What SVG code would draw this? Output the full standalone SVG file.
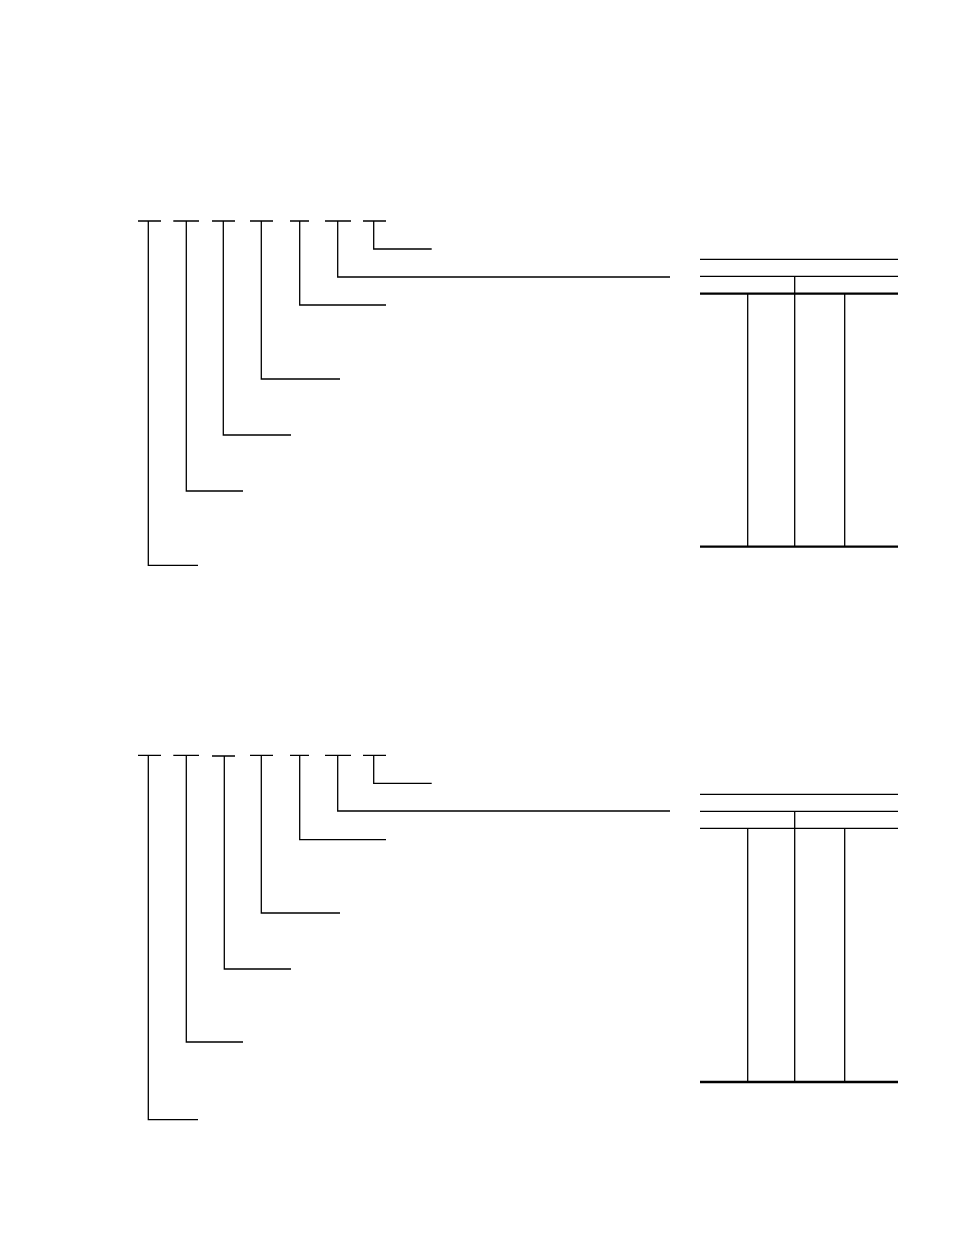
<svg xmlns="http://www.w3.org/2000/svg" width="954" height="1235" viewBox="0 0 954 1235">
<style>
.l{stroke:#000;stroke-width:1.3;fill:none}
.t{stroke:#000;stroke-width:2.3;fill:none}
</style>
<rect width="954" height="1235" fill="#fff"/>
<g id="diagram1">
<g id="connectors1">
<path class="l" d="M138 221H161M148.3 221V565.3H198"/>
<path class="l" d="M173.3 221H199M186.3 221V491H243"/>
<path class="l" d="M212 221H235M223.3 221V435H291"/>
<path class="l" d="M250 221H273M261.3 221V379H340"/>
<path class="l" d="M290 221H309M299.7 221V305H386"/>
<path class="l" d="M325 221H351M337.7 221V277H670"/>
<path class="l" d="M363 221H386M373.7 221V249H431.7"/>
</g>
<g id="table1">
<path class="l" d="M700 259.3H898M700 276.3H898M794.7 276.3V546.7M747.7 293.7V546.7M844.7 293.7V546.7"/>
<path class="t" d="M700 293.7H898M700 546.7H898"/>
</g>
</g>
<g id="diagram2">
<g id="connectors2">
<path class="l" d="M138 755.3H161M148.3 755.3V1119.7H198"/>
<path class="l" d="M173.3 755.3H199M186.3 755.3V1042H243"/>
<path class="l" d="M212 756H235M224.3 756V969H291"/>
<path class="l" d="M250 755.3H273M261.3 755.3V913H340"/>
<path class="l" d="M290 755.3H309M299.7 755.3V839.7H386"/>
<path class="l" d="M325 755.3H351M337.7 755.3V811H670"/>
<path class="l" d="M363 755.3H386M373.7 755.3V783.3H431.7"/>
</g>
<g id="table2">
<path class="l" d="M700 794.3H898M700 811.3H898M700 828.3H898M794.7 811.3V1082M747.7 828.3V1082M844.7 828.3V1082"/>
<path class="t" d="M700 1082H898"/>
</g>
</g>
</svg>
